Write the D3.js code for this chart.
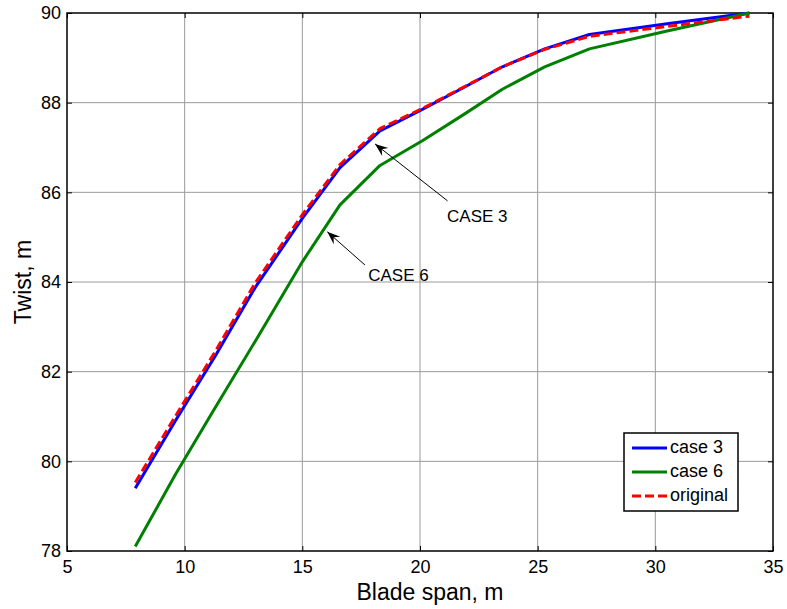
<!DOCTYPE html>
<html>
<head>
<meta charset="utf-8">
<script src="https://cdn.jsdelivr.net/npm/d3@7"></script>
<style>
  html, body { margin: 0; padding: 0; background: #fff; }
  svg { display: block; font-family: "Liberation Sans", Arial, sans-serif; }
</style>
</head>
<body>
<svg id="chart" width="787" height="609"></svg>
<script>
// Blade span stations (m)
const span = [7.9, 9.6, 11.3, 13.0, 15.0, 16.6, 18.3, 20.1, 21.9, 23.5, 25.3, 27.2, 30.5, 34.0];
// Twist along the span for each configuration
const case3 = [79.40, 80.90, 82.35, 83.88, 85.42, 86.55, 87.37, 87.85, 88.35, 88.80, 89.20, 89.52, 89.76, 90.00];
const case6 = [78.10, 79.70, 81.20, 82.68, 84.45, 85.72, 86.60, 87.15, 87.75, 88.30, 88.80, 89.20, 89.60, 90.00];
const original = [79.53, 81.00, 82.45, 83.98, 85.50, 86.62, 87.42, 87.87, 88.36, 88.80, 89.19, 89.48, 89.70, 89.93];

const xTicks = [5, 10, 15, 20, 25, 30, 35];
const yTicks = [78, 80, 82, 84, 86, 88, 90];

const seriesNames = ["case 3", "case 6", "original"];
const seriesColors = ["#0000ff", "#008000", "#ff0000"];
const seriesValues = [case3, case6, original];

const svg = d3.select("#chart");
const pLeft = 67, pRight = 773, pTop = 13, pBottom = 551;

const x = d3.scaleLinear().domain([5, 35]).range([pLeft, pRight]);
const y = d3.scaleLinear().domain([78, 90]).range([pBottom, pTop]);

// grid
const grid = svg.append("g");
grid.selectAll("line.vx").data(xTicks.slice(1, -1)).join("line")
  .attr("x1", d => x(d)).attr("x2", d => x(d))
  .attr("y1", pTop).attr("y2", pBottom)
  .attr("stroke", "#9a9a9a").attr("stroke-width", 1);
grid.selectAll("line.hy").data(yTicks.slice(1, -1)).join("line")
  .attr("x1", pLeft).attr("x2", pRight)
  .attr("y1", d => y(d)).attr("y2", d => y(d))
  .attr("stroke", "#9a9a9a").attr("stroke-width", 1);

// axes with inward ticks on all four sides
const tickLen = 5;
const fmt = d3.format("d");
svg.append("g").attr("transform", `translate(0,${pBottom})`)
  .call(d3.axisBottom(x).tickValues(xTicks).tickFormat(fmt).tickSizeInner(-tickLen).tickSizeOuter(0).tickPadding(9))
  .call(g => g.select(".domain").remove());
svg.append("g").attr("transform", `translate(0,${pTop})`)
  .call(d3.axisTop(x).tickValues(xTicks).tickFormat("").tickSizeInner(-tickLen).tickSizeOuter(0))
  .call(g => g.select(".domain").remove());
svg.append("g").attr("transform", `translate(${pLeft},0)`)
  .call(d3.axisLeft(y).tickValues(yTicks).tickFormat(fmt).tickSizeInner(-tickLen).tickSizeOuter(0).tickPadding(6))
  .call(g => g.select(".domain").remove());
svg.append("g").attr("transform", `translate(${pRight},0)`)
  .call(d3.axisRight(y).tickValues(yTicks).tickFormat("").tickSizeInner(-tickLen).tickSizeOuter(0))
  .call(g => g.select(".domain").remove());

svg.selectAll(".tick text").attr("font-size", 18).attr("fill", "#000")
  .attr("font-family", "Liberation Sans, Arial, sans-serif");
svg.selectAll(".tick line").attr("stroke", "#000");

// plot box
svg.append("rect").attr("x", pLeft).attr("y", pTop)
  .attr("width", pRight - pLeft).attr("height", pBottom - pTop)
  .attr("fill", "none").attr("stroke", "#000").attr("stroke-width", 1.5);

// series
const line = d3.line().x((d, i) => x(span[i])).y(d => y(d));
seriesValues.forEach((vals, k) => {
  svg.append("path").datum(vals)
    .attr("d", line)
    .attr("fill", "none")
    .attr("stroke", seriesColors[k])
    .attr("stroke-width", 3)
    .attr("stroke-linejoin", "round")
    .attr("stroke-dasharray", k === 2 ? "9,4" : null);
});

// annotations: arrows pointing at the curves, with their labels
const notes = [
  { text: "CASE 3", head: [18.09, 87.08], tail: [21.17, 85.81], tx: 21.15, ty: 85.43 },
  { text: "CASE 6", head: [16.06, 85.12], tail: [17.66, 84.38], tx: 17.8, ty: 84.12 }
];
notes.forEach(n => {
  svg.append("line")
    .attr("x1", x(n.tail[0])).attr("y1", y(n.tail[1]))
    .attr("x2", x(n.head[0])).attr("y2", y(n.head[1]))
    .attr("stroke", "#000").attr("stroke-width", 1);
  const ang = Math.atan2(y(n.head[1]) - y(n.tail[1]), x(n.head[0]) - x(n.tail[0]));
  const hx = x(n.head[0]), hy = y(n.head[1]), L = 13, W = 5;
  const bx = hx - L * Math.cos(ang), by = hy - L * Math.sin(ang);
  const mx = hx - 0.65 * L * Math.cos(ang), my = hy - 0.65 * L * Math.sin(ang);
  const px = -Math.sin(ang) * W, py = Math.cos(ang) * W;
  svg.append("path")
    .attr("d", `M${hx},${hy} L${bx + px},${by + py} L${mx},${my} L${bx - px},${by - py} Z`)
    .attr("fill", "#000");
  svg.append("text").attr("x", x(n.tx)).attr("y", y(n.ty))
    .attr("font-size", 17).attr("dominant-baseline", "middle")
    .text(n.text);
});

// axis titles
svg.append("text").attr("x", 430).attr("y", 600)
  .attr("text-anchor", "middle").attr("font-size", 23).text("Blade span, m");
svg.append("text")
  .attr("transform", `translate(31,${(pTop + pBottom) / 2}) rotate(-90)`)
  .attr("text-anchor", "middle").attr("font-size", 23).text("Twist, m");

// legend
const lg = svg.append("g").attr("transform", "translate(624,433)");
lg.append("rect").attr("width", 114).attr("height", 78)
  .attr("fill", "#fff").attr("stroke", "#000").attr("stroke-width", 1.5);
seriesNames.forEach((name, k) => {
  const yy = 15 + k * 24;
  lg.append("line").attr("x1", 8).attr("x2", 43).attr("y1", yy).attr("y2", yy)
    .attr("stroke", seriesColors[k]).attr("stroke-width", 3)
    .attr("stroke-dasharray", k === 2 ? "9,4" : null);
  lg.append("text").attr("x", 46).attr("y", yy).attr("dominant-baseline", "middle")
    .attr("font-size", 18).text(name);
});
</script>
</body>
</html>
